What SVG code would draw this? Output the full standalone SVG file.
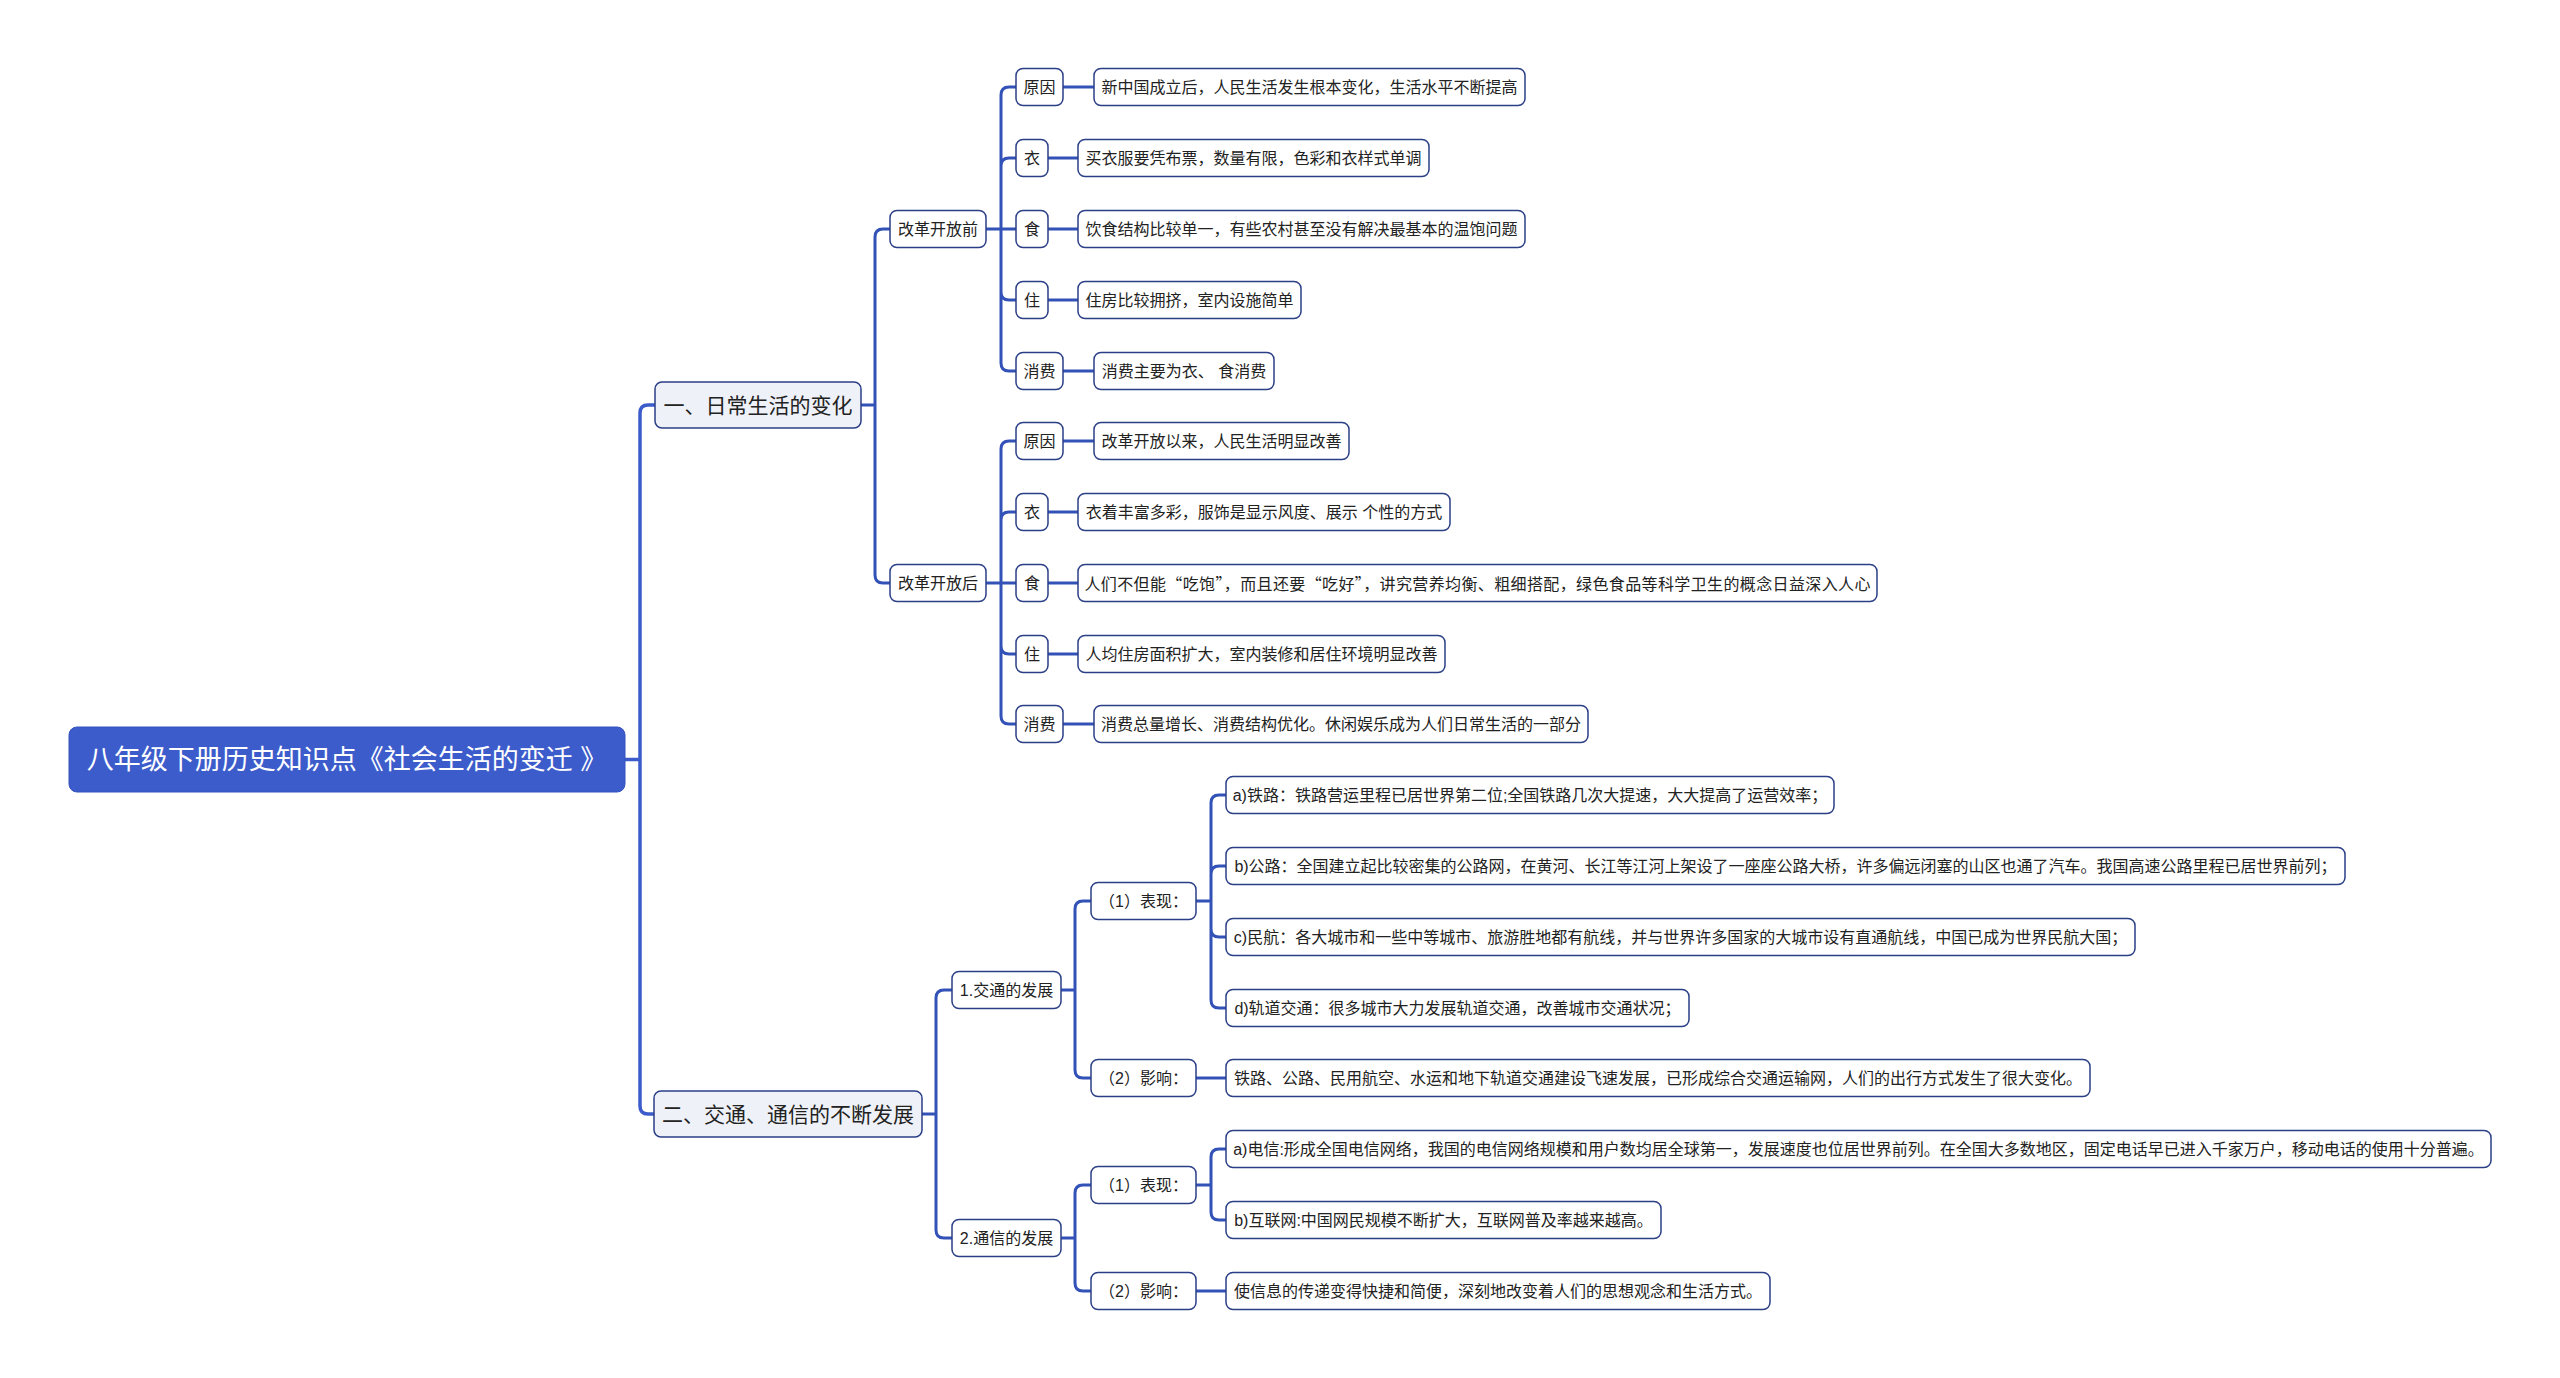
<svg xmlns="http://www.w3.org/2000/svg" width="2560" height="1378" viewBox="0 0 2560 1378">
<style>
.bg{fill:#ffffff}
.n rect{fill:#ffffff;stroke:#2B3F86;stroke-width:1.5}
.l1 rect{fill:#EEF1F7;stroke:#2B3F86;stroke-width:1.5}
.root rect{fill:#3D5CCB;stroke:#3552C0;stroke-width:1}
text{font-family:"Liberation Sans","Noto Sans CJK SC",sans-serif;text-anchor:middle;dominant-baseline:central;fill:#222222;font-size:16px}
.cjk{font-family:"Noto Sans CJK SC","Liberation Sans",sans-serif}
.l1 text{font-size:21px}
.root text{font-size:27px;fill:#ffffff}
.c path{fill:none;stroke:#3352B8;stroke-width:3;stroke-linecap:butt}
.c .m{stroke:#3D5CCB;stroke-width:3.5}
</style>
<rect class="bg" x="0" y="0" width="2560" height="1378"/>

<g id="connectors" class="c">
  <path class="m" d="M625 759.5 H640 M640 759.5 V413 Q640 405 648 405 H655 M640 759.5 V1106 Q640 1114 648 1114 H654"/>
  <path d="M861 405 H875 M875 405 V237 Q875 229 883 229 H890 M875 405 V575 Q875 583 883 583 H890"/>
  <path d="M986 229 H1016 M1001 229 V95 Q1001 87 1009 87 H1016 M1001 229 V166 Q1001 158 1009 158 H1016 M1001 229 V292 Q1001 300 1009 300 H1016 M1001 229 V363 Q1001 371 1009 371 H1016"/>
  <path d="M1063 87 H1094 M1048 158 H1078 M1048 229 H1078 M1048 300 H1078 M1063 371 H1094"/>
  <path d="M986 583 H1016 M1001 583 V449 Q1001 441 1009 441 H1016 M1001 583 V520 Q1001 512 1009 512 H1016 M1001 583 V646 Q1001 654 1009 654 H1016 M1001 583 V716 Q1001 724 1009 724 H1016"/>
  <path d="M1063 441 H1094 M1048 512 H1078 M1048 583 H1078 M1048 654 H1078 M1063 724 H1094"/>
  <path d="M922 1114 H936 M936 1114 V998 Q936 990 944 990 H952 M936 1114 V1230 Q936 1238 944 1238 H952"/>
  <path d="M1061 990 H1075 M1075 990 V909 Q1075 901 1083 901 H1091 M1075 990 V1070 Q1075 1078 1083 1078 H1091"/>
  <path d="M1061 1238 H1075 M1075 1238 V1193 Q1075 1185 1083 1185 H1091 M1075 1238 V1283 Q1075 1291 1083 1291 H1091"/>
  <path d="M1196 901 H1211 M1211 901 V803 Q1211 795 1219 795 H1226 M1211 901 V874 Q1211 866 1219 866 H1226 M1211 901 V929 Q1211 937 1219 937 H1226 M1211 901 V1000 Q1211 1008 1219 1008 H1226"/>
  <path d="M1196 1078 H1226"/>
  <path d="M1196 1185 H1211 M1211 1185 V1157 Q1211 1149 1219 1149 H1226 M1211 1185 V1212 Q1211 1220 1219 1220 H1226"/>
  <path d="M1196 1291 H1226"/>
</g>

<g id="root" class="root"><rect x="69" y="727" width="556" height="65" rx="8"/><text x="347" y="759.5">八年级下册历史知识点《社会生活的变迁 》</text></g>

<g id="s1" class="l1"><rect x="655" y="382" width="206" height="46" rx="7"/><text x="758" y="405">一、日常生活的变化</text></g>
<g id="s2" class="l1"><rect x="654" y="1091" width="268" height="46" rx="7"/><text x="788" y="1114">二、交通、通信的不断发展</text></g>

<g id="before" class="n"><rect x="890" y="210.5" width="96" height="37" rx="7"/><text x="938" y="229">改革开放前</text></g>
<g id="after" class="n"><rect x="890" y="564.5" width="96" height="37" rx="7"/><text x="938" y="583">改革开放后</text></g>

<g id="a-reason" class="n"><rect x="1016" y="68.5" width="47" height="37" rx="7"/><text x="1039.5" y="87">原因</text></g>
<g id="a-reason-t" class="n"><rect x="1094" y="68.5" width="431" height="37" rx="7"/><text x="1309.5" y="87">新中国成立后，人民生活发生根本变化，生活水平不断提高</text></g>
<g id="a-yi" class="n"><rect x="1016" y="139.5" width="32" height="37" rx="7"/><text x="1032" y="158">衣</text></g>
<g id="a-yi-t" class="n"><rect x="1078" y="139.5" width="351" height="37" rx="7"/><text x="1253.5" y="158">买衣服要凭布票，数量有限，色彩和衣样式单调</text></g>
<g id="a-shi" class="n"><rect x="1016" y="210.5" width="32" height="37" rx="7"/><text x="1032" y="229">食</text></g>
<g id="a-shi-t" class="n"><rect x="1078" y="210.5" width="447" height="37" rx="7"/><text x="1301.5" y="229">饮食结构比较单一，有些农村甚至没有解决最基本的温饱问题</text></g>
<g id="a-zhu" class="n"><rect x="1016" y="281.5" width="32" height="37" rx="7"/><text x="1032" y="300">住</text></g>
<g id="a-zhu-t" class="n"><rect x="1078" y="281.5" width="223" height="37" rx="7"/><text x="1189.5" y="300">住房比较拥挤，室内设施简单</text></g>
<g id="a-xf" class="n"><rect x="1016" y="352.5" width="47" height="37" rx="7"/><text x="1039.5" y="371">消费</text></g>
<g id="a-xf-t" class="n"><rect x="1094" y="352.5" width="180" height="37" rx="7"/><text x="1184" y="371">消费主要为衣、 食消费</text></g>

<g id="b-reason" class="n"><rect x="1016" y="422.5" width="47" height="37" rx="7"/><text x="1039.5" y="441">原因</text></g>
<g id="b-reason-t" class="n"><rect x="1094" y="422.5" width="255" height="37" rx="7"/><text x="1221.5" y="441">改革开放以来，人民生活明显改善</text></g>
<g id="b-yi" class="n"><rect x="1016" y="493.5" width="32" height="37" rx="7"/><text x="1032" y="512">衣</text></g>
<g id="b-yi-t" class="n"><rect x="1078" y="493.5" width="372" height="37" rx="7"/><text x="1264" y="512">衣着丰富多彩，服饰是显示风度、展示 个性的方式</text></g>
<g id="b-shi" class="n"><rect x="1016" y="564.5" width="32" height="37" rx="7"/><text x="1032" y="583">食</text></g>
<g id="b-shi-t" class="n"><rect x="1078" y="564.5" width="799" height="37" rx="7"/><text class="cjk" x="1477.5" y="583" textLength="786" lengthAdjust="spacing">人们不但能“吃饱”，而且还要“吃好”，讲究营养均衡、粗细搭配，绿色食品等科学卫生的概念日益深入人心</text></g>
<g id="b-zhu" class="n"><rect x="1016" y="635.5" width="32" height="37" rx="7"/><text x="1032" y="654">住</text></g>
<g id="b-zhu-t" class="n"><rect x="1078" y="635.5" width="367" height="37" rx="7"/><text x="1261.5" y="654">人均住房面积扩大，室内装修和居住环境明显改善</text></g>
<g id="b-xf" class="n"><rect x="1016" y="705.5" width="47" height="37" rx="7"/><text x="1039.5" y="724">消费</text></g>
<g id="b-xf-t" class="n"><rect x="1094" y="705.5" width="494" height="37" rx="7"/><text x="1341" y="724">消费总量增长、消费结构优化。休闲娱乐成为人们日常生活的一部分</text></g>

<g id="traffic" class="n"><rect x="952" y="971.5" width="109" height="37" rx="7"/><text x="1006.5" y="990">1.交通的发展</text></g>
<g id="comm" class="n"><rect x="952" y="1219.5" width="109" height="37" rx="7"/><text x="1006.5" y="1238">2.通信的发展</text></g>

<g id="t-show" class="n"><rect x="1091" y="882.5" width="105" height="37" rx="7"/><text x="1143.5" y="901">（1）表现：</text></g>
<g id="t-effect" class="n"><rect x="1091" y="1059.5" width="105" height="37" rx="7"/><text x="1143.5" y="1078">（2）影响：</text></g>
<g id="c-show" class="n"><rect x="1091" y="1166.5" width="105" height="37" rx="7"/><text x="1143.5" y="1185">（1）表现：</text></g>
<g id="c-effect" class="n"><rect x="1091" y="1272.5" width="105" height="37" rx="7"/><text x="1143.5" y="1291">（2）影响：</text></g>

<g id="t-a" class="n"><rect x="1226" y="776.5" width="608" height="37" rx="7"/><text x="1530" y="795">a)铁路：铁路营运里程已居世界第二位;全国铁路几次大提速，大大提高了运营效率；</text></g>
<g id="t-b" class="n"><rect x="1226" y="847.5" width="1119" height="37" rx="7"/><text x="1785.5" y="866">b)公路：全国建立起比较密集的公路网，在黄河、长江等江河上架设了一座座公路大桥，许多偏远闭塞的山区也通了汽车。我国高速公路里程已居世界前列；</text></g>
<g id="t-c" class="n"><rect x="1226" y="918.5" width="909" height="37" rx="7"/><text x="1680.5" y="937">c)民航：各大城市和一些中等城市、旅游胜地都有航线，并与世界许多国家的大城市设有直通航线，中国已成为世界民航大国；</text></g>
<g id="t-d" class="n"><rect x="1226" y="989.5" width="463" height="37" rx="7"/><text x="1457.5" y="1008">d)轨道交通：很多城市大力发展轨道交通，改善城市交通状况；</text></g>
<g id="t-e" class="n"><rect x="1226" y="1059.5" width="864" height="37" rx="7"/><text x="1658" y="1078">铁路、公路、民用航空、水运和地下轨道交通建设飞速发展，已形成综合交通运输网，人们的出行方式发生了很大变化。</text></g>
<g id="c-a" class="n"><rect x="1226" y="1130.5" width="1265" height="37" rx="7"/><text x="1858.5" y="1149">a)电信:形成全国电信网络，我国的电信网络规模和用户数均居全球第一，发展速度也位居世界前列。在全国大多数地区，固定电话早已进入千家万户，移动电话的使用十分普遍。</text></g>
<g id="c-b" class="n"><rect x="1226" y="1201.5" width="435" height="37" rx="7"/><text x="1443.5" y="1220">b)互联网:中国网民规模不断扩大，互联网普及率越来越高。</text></g>
<g id="c-e" class="n"><rect x="1226" y="1272.5" width="544" height="37" rx="7"/><text x="1498" y="1291">使信息的传递变得快捷和简便，深刻地改变着人们的思想观念和生活方式。</text></g>
</svg>
